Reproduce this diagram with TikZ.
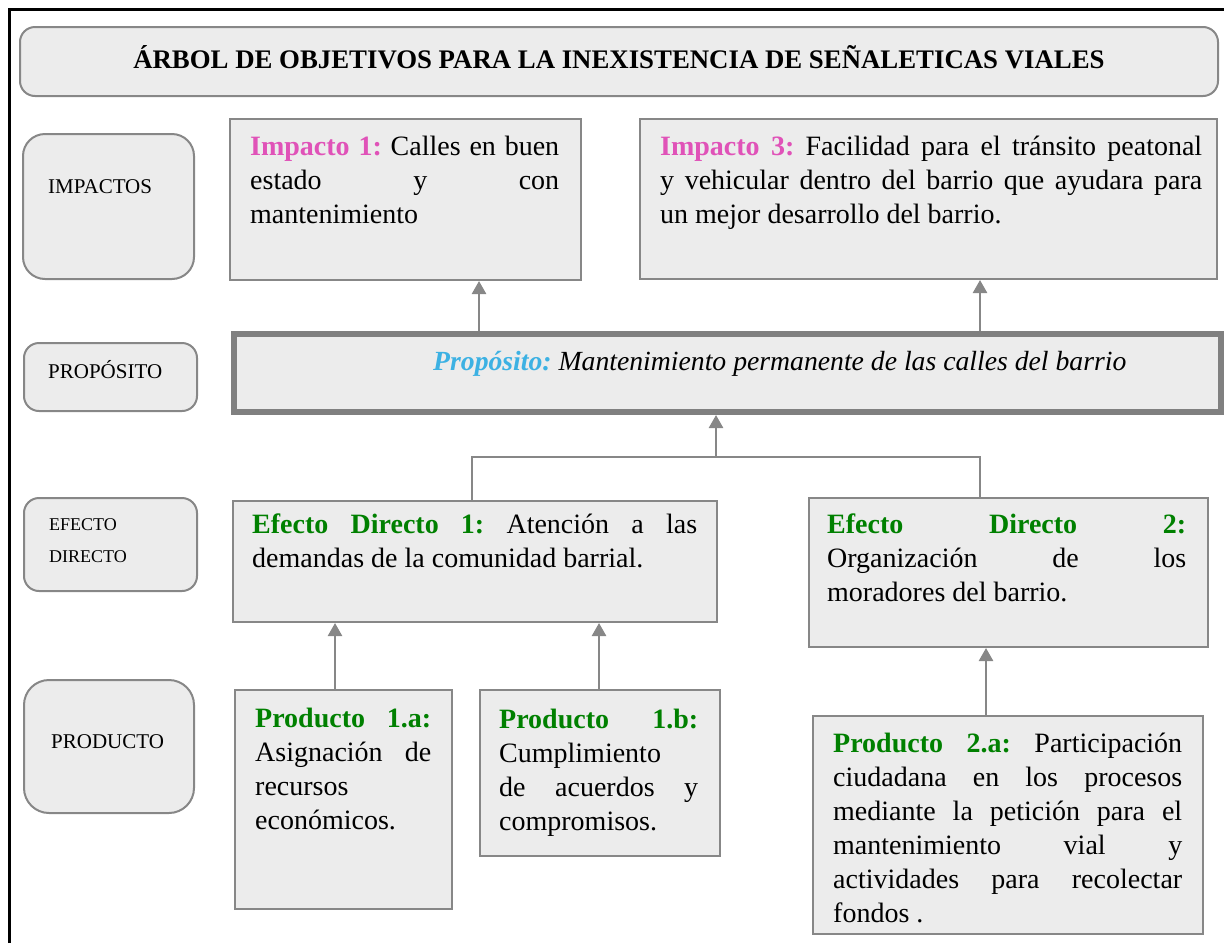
\documentclass[tikz,border=0pt]{standalone}
\usepackage{fontspec}
\setmainfont{Liberation Serif}
\usetikzlibrary{arrows.meta}
\definecolor{boxfill}{HTML}{ECECEC}
\definecolor{boxline}{HTML}{878787}
\definecolor{propline}{HTML}{808080}
\definecolor{pinkc}{HTML}{E052B8}
\definecolor{bluec}{HTML}{3CB1E3}
\definecolor{greenc}{HTML}{008000}
\frenchspacing
\newcommand\rs{\spaceskip=0pt\xspaceskip=0pt\frenchspacing}
\newcommand\jl[1]{\leavevmode\hbox to\linewidth{\rs #1}}
\newcommand\gr[1]{\textbf{\color{greenc}#1}}
\newcommand\pk[1]{\textbf{\color{pinkc}#1}}
\tikzset{
  box/.style={draw=boxline, fill=boxfill, line width=2pt, anchor=north west, inner sep=0pt},
  tagbox/.style={box, rounded corners=#1},
  body/.style={anchor=base west, inner sep=0pt, align=left, text width=#1, font=\fontsize{28}{34}\selectfont},
  tagtxt/.style={anchor=base west, inner sep=0pt, align=left, font=\fontsize{21}{32}\selectfont},
  arr/.style={draw=boxline, line width=2.5pt, -{Triangle[length=13pt,width=14pt]}},
  conn/.style={draw=boxline, line width=2.5pt},
}
\begin{document}
\begin{tikzpicture}[x=1pt,y=-1pt]
\useasboundingbox (0,0) rectangle (1224,943);
% outer frame
\coordinate (fb) at (9,943);
\coordinate (ftl) at (9,9);
\coordinate (fr) at (1224,9);
\draw[line width=3pt] (fb) -- (ftl) -- (fr);

% title
\node[tagbox=15pt, minimum width=1198pt, minimum height=69pt] (title) at (19,26) {};
\node[anchor=base, inner sep=0pt, font=\fontsize{26.8}{30}\selectfont\bfseries] (titlet) at (619,68)
  {ÁRBOL DE OBJETIVOS PARA LA INEXISTENCIA DE SEÑALETICAS VIALES};

% left tags
\node[tagbox=22pt, minimum width=171pt, minimum height=145pt] (timp) at (22,133) {};
\node[tagtxt] (timpt) at (48,193) {IMPACTOS};
\node[tagbox=15pt, minimum width=173pt, minimum height=68pt] (tprop) at (23,342) {};
\node[tagtxt] (tpropt) at (48,378) {PROPÓSITO};
\node[tagbox=15pt, minimum width=173pt, minimum height=93pt] (tefe) at (23,497) {};
\node[tagtxt, font=\fontsize{18}{32}\selectfont] (tefet) at (49,562) {EFECTO\\DIRECTO};
\node[tagbox=25pt, minimum width=170pt, minimum height=133pt] (tpro) at (23,679) {};
\node[tagtxt] (tprot) at (51,748) {PRODUCTO};

% impact boxes
\node[box, minimum width=351pt, minimum height=161pt] (i1) at (229,118) {};
\node[body=309pt] (i1t) at (250,155) {\rs\jl{\pk{Impacto 1:} Calles en buen}\\\jl{estado \hfill y \hfill con}\\mantenimiento};
\node[box, minimum width=577pt, minimum height=160pt] (i3) at (639,118) {};
\node[body=542pt] (i3t) at (660,155) {\rs\jl{\pk{Impacto 3:} Facilidad para el tránsito peatonal}\\\jl{y vehicular dentro del barrio que ayudara para}\\un mejor desarrollo del barrio.};

% purpose
\node[box, draw=propline, line width=6pt, minimum width=987pt, minimum height=78pt] (prop) at (231,331) {};
\node[anchor=base west, inner sep=0pt, font=\fontsize{27.7}{34}\selectfont\itshape] (propt) at (433,370)
  {\textbf{\color{bluec}Propósito:} Mantenimiento permanente de las calles del barrio};

% direct effects
\node[box, minimum width=484pt, minimum height=121pt] (ed1) at (232,500) {};
\node[body=445pt] (ed1t) at (252,533) {\rs\jl{\gr{Efecto Directo 1:} Atención a las}\\demandas de la comunidad barrial.};
\node[box, minimum width=399pt, minimum height=149pt] (ed2) at (808,497) {};
\node[body=359pt] (ed2t) at (827,533) {\rs\jl{\gr{Efecto}\hfill\gr{Directo}\hfill\gr{2:}}\\\jl{Organización\hfill de\hfill los}\\moradores del barrio.};

% products
\node[box, minimum width=217pt, minimum height=219pt] (p1a) at (234,689) {};
\node[body=176pt] (p1at) at (255,727) {\rs\jl{\gr{Producto}\hfill\gr{1.a:}}\\\jl{Asignación\hfill de}\\recursos\\económicos.};
\node[box, minimum width=240pt, minimum height=166pt] (p1b) at (479,689) {};
\node[body=199pt] (p1bt) at (499,728) {\rs\jl{\gr{Producto}\hfill\gr{1.b:}}\\Cumplimiento\\\jl{de\hfill acuerdos\hfill y}\\compromisos.};
\node[box, minimum width=390pt, minimum height=218pt] (p2a) at (812,715) {};
\node[body=349pt] (p2at) at (833,752) {\rs\jl{\gr{Producto 2.a:} Participación}\\\jl{ciudadana\hfill en\hfill los\hfill procesos}\\\jl{mediante la petición para el}\\\jl{mantenimiento\hfill vial\hfill y}\\\jl{actividades\hfill para\hfill recolectar}\\fondos .};

% connector coordinates
\coordinate (ax1) at (479,0);
\coordinate (ax3) at (980,0);
\coordinate (j) at (716,457);
\coordinate (jl) at (472,457);
\coordinate (jr) at (980,457);
\coordinate (a1a) at (335,0);
\coordinate (a1b) at (599,0);
\coordinate (a2a) at (986,0);

% arrows
\draw[arr] (prop.north -| ax1) -- (i1.south -| ax1);
\draw[arr] (prop.north -| ax3) -- (i3.south -| ax3);
\draw[conn] (ed1.north -| jl) |- (jr) -- (ed2.north -| jr);
\draw[arr] (j) -- (prop.south -| j);
\draw[arr] (p1a.north -| a1a) -- (ed1.south -| a1a);
\draw[arr] (p1b.north -| a1b) -- (ed1.south -| a1b);
\draw[arr] (p2a.north -| a2a) -- (ed2.south -| a2a);
\end{tikzpicture}
\end{document}
